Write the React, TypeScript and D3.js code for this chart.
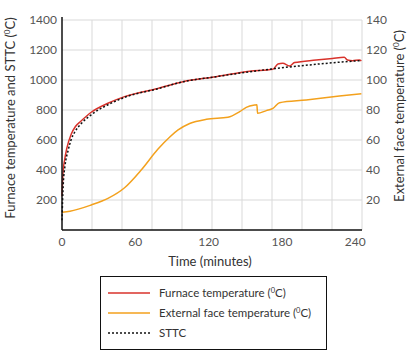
import React from 'react'
import * as d3 from 'd3'

// minutes
const furnaceTime = [0, 0.8, 2.2, 3.8, 7.6, 11, 15.8, 23.9, 37.6, 51.2, 78.4, 99, 126, 153.5, 172.6, 176.7, 180.7, 186.2, 190.3, 208, 221.3, 231, 233.6, 237.7, 243.4, 245]
const furnaceTemp = [225, 380, 470, 540, 640, 690, 728, 785, 845, 889, 944, 989, 1022, 1058, 1071, 1107, 1111, 1093, 1116, 1133, 1144, 1151, 1133, 1129, 1133, 1127]

const sttcTime = [0, 0.5, 1, 2.5, 5, 7.6, 11, 15.8, 23.9, 37.6, 51.2, 78.4, 99, 126, 153.5, 174, 194.4, 218.9, 245]
const sttcTemp = [65, 200, 300, 430, 530, 605, 660, 710, 768, 835, 884, 942, 988, 1022, 1055, 1076, 1094, 1113, 1130]

const extTime = [0, 6.5, 23.9, 37.6, 51.2, 64.8, 78.4, 88.2, 95, 104.5, 118.2, 135.8, 145.4, 150.8, 157.6, 159.5, 160, 167.2, 172.6, 178, 199.8, 227, 245]
const extTemp = [11.8, 12.5, 16.7, 21.1, 28.2, 40, 53.8, 62, 66.7, 71, 73.8, 75.1, 78.9, 81.8, 83.3, 83.5, 77.8, 79.6, 81.1, 84.9, 86.7, 89.3, 90.8]

const xTicks = [0, 60, 120, 180, 240]
const leftTicks = [200, 400, 600, 800, 1000, 1200, 1400]
const rightTicks = [20, 40, 60, 80, 100, 120, 140]

const RED = '#d8322b'
const ORANGE = '#f3a11d'
const FONT = 'Lato, "Open Sans", sans-serif'

type Pt = { t: number; v: number }
const zip = (ts: number[], vs: number[]): Pt[] => ts.map((t, i) => ({ t, v: vs[i] }))

export default function App() {
  const left = 62
  const right = 362
  const top = 20
  const bottom = 230

  const x = d3.scaleLinear().domain([0, 245.5]).range([left, right])
  const yL = d3.scaleLinear().domain([0, 1400]).range([bottom, top])
  const yR = d3.scaleLinear().domain([0, 140]).range([bottom, top])
  // vertical grid: 10 equal divisions of the plot width
  const gx = d3.scaleLinear().domain([0, 10]).range([left, right])

  const lineL = d3.line<Pt>().x((d) => x(d.t)).y((d) => yL(d.v)).curve(d3.curveMonotoneX)
  const lineR = d3.line<Pt>().x((d) => x(d.t)).y((d) => yR(d.v)).curve(d3.curveMonotoneX)

  const legendRows = [
    { label: 'Furnace temperature', sup: true, color: RED, dash: undefined },
    { label: 'External face temperature', sup: true, color: ORANGE, dash: undefined },
    { label: 'STTC', sup: false, color: '#111', dash: '2,2' },
  ]

  return (
    <svg width={415} height={354} style={{ position: 'absolute', left: 0, top: 0 }} fontFamily={FONT}>
      <rect width={415} height={354} fill="white" />
      {/* grid */}
      {d3.range(1, 11).map((i) => (
        <line key={'gx' + i} x1={gx(i)} x2={gx(i)} y1={top} y2={bottom} stroke="#d9d9d9" strokeWidth={1} />
      ))}
      {leftTicks.map((v) => (
        <line key={'gy' + v} x1={left} x2={right} y1={yL(v)} y2={yL(v)} stroke="#d9d9d9" strokeWidth={1} />
      ))}

      {/* series */}
      <path d={lineR(zip(extTime, extTemp)) || ''} fill="none" stroke={ORANGE} strokeWidth={1.5} />
      <path d={lineL(zip(furnaceTime, furnaceTemp)) || ''} fill="none" stroke={RED} strokeWidth={1.5} />
      <path d={lineL(zip(sttcTime, sttcTemp)) || ''} fill="none" stroke="#111" strokeWidth={1.5} strokeDasharray="2,2" />

      {/* axes */}
      <line x1={left} x2={left} y1={top - 3} y2={bottom} stroke="#111" strokeWidth={1.5} />
      <line x1={left} x2={right} y1={bottom} y2={bottom} stroke="#111" strokeWidth={1.5} />

      {leftTicks.map((v) => (
        <text key={'lt' + v} x={left - 5} y={yL(v)} dy="0.35em" textAnchor="end" fontSize={12} fill="#555">
          {v}
        </text>
      ))}
      {rightTicks.map((v) => (
        <text key={'rt' + v} x={right + 4} y={yR(v)} dy="0.35em" textAnchor="start" fontSize={12} fill="#555">
          {v}
        </text>
      ))}
      {xTicks.map((v) => (
        <text key={'xt' + v} x={x(v)} y={bottom + 16} textAnchor="middle" fontSize={12} fill="#555">
          {v}
        </text>
      ))}

      <text x={210} y={266} textAnchor="middle" fontSize={13} fill="#333">
        Time (minutes)
      </text>
      <text transform="translate(15,118) rotate(-90)" textAnchor="middle" fontSize={13} fill="#333">
        Furnace temperature and STTC (<tspan dy={-5} fontSize={8}>0</tspan>
        <tspan dy={5}>C)</tspan>
      </text>
      <text transform="translate(404,116) rotate(-90)" textAnchor="middle" fontSize={13} fill="#333">
        External face temperature (<tspan dy={-5} fontSize={8}>0</tspan>
        <tspan dy={5}>C)</tspan>
      </text>

      {/* legend */}
      <rect x={100.5} y={276.5} width={226} height={73} fill="white" stroke="#111" strokeWidth={1} />
      {legendRows.map((r, i) => {
        const ly = 293 + i * 20
        return (
          <g key={r.label}>
            <line x1={108} x2={150} y1={ly} y2={ly} stroke={r.color} strokeWidth={1.5} strokeDasharray={r.dash} />
            <text x={159} y={ly} dy="0.35em" fontSize={11.5} fill="#333">
              {r.label}
              {r.sup ? (
                <>
                  {'  ('}
                  <tspan dy={-4} fontSize={7.5}>0</tspan>
                  <tspan dy={4}>C)</tspan>
                </>
              ) : null}
            </text>
          </g>
        )
      })}
    </svg>
  )
}
